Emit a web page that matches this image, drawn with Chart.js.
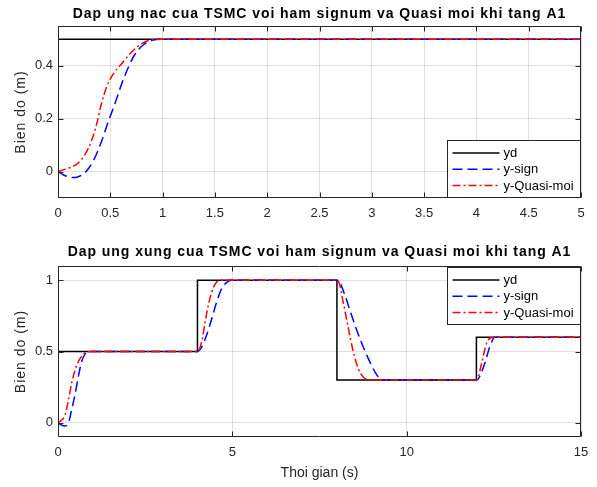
<!DOCTYPE html>
<html><head><meta charset="utf-8">
<script src="https://cdn.jsdelivr.net/npm/chart.js@4.4.1/dist/chart.umd.min.js"></script>
<style>
html,body{margin:0;padding:0;background:#fff;}
body{width:597px;height:487px;overflow:hidden;position:relative;}
canvas{position:absolute;left:0;}
#c1{top:0;}
#c2{top:240px;}
</style></head>
<body>
<canvas id="c1" width="597" height="240"></canvas>
<canvas id="c2" width="597" height="247"></canvas>
<script>
// ---------------- data ----------------
const seriesNames = ['yd', 'y-sign', 'y-Quasi-moi'];

const topTitle = 'Dap ung nac cua TSMC voi ham signum va Quasi moi khi tang A1';
const botTitle = 'Dap ung xung cua TSMC voi ham signum va Quasi moi khi tang A1';
const yLabel = 'Bien do (m)';
const xLabel = 'Thoi gian (s)';

const topXTicks = [0, 0.5, 1, 1.5, 2, 2.5, 3, 3.5, 4, 4.5, 5];
const topYTicks = [0, 0.2, 0.4];
const botXTicks = [0, 5, 10, 15];
const botYTicks = [0, 0.5, 1];

// step response (top)
const topRefT = [0, 5];
const topRefY = [0.5, 0.5];
const topSignT = [0, 0.05, 0.1, 0.16, 0.21, 0.26, 0.34, 0.42, 0.48, 0.545, 0.61, 0.675, 0.74, 0.82, 0.91, 1.0, 5];
const topSignY = [0, -0.012, -0.02, -0.023, -0.017, -0.004, 0.042, 0.118, 0.188, 0.257, 0.333, 0.396, 0.446, 0.48, 0.497, 0.5, 0.5];
const topQuasiT = [0, 0.07, 0.18, 0.26, 0.32, 0.37, 0.415, 0.465, 0.53, 0.61, 0.705, 0.8, 0.9, 1.0, 5];
const topQuasiY = [0, 0.009, 0.028, 0.066, 0.116, 0.18, 0.256, 0.32, 0.37, 0.408, 0.452, 0.483, 0.498, 0.5, 0.5];

// pulse response (bottom)
const botRefT = [0, 4, 4, 8, 8, 12, 12, 15];
const botRefY = [0.5, 0.5, 1, 1, 0.3, 0.3, 0.6, 0.6];
const botSignT = [0, 0.1, 0.2, 0.3, 0.39, 0.49, 0.58, 0.68, 0.77, 0.91, 4, 4.12, 4.26, 4.41, 4.55, 4.69, 4.84, 4.98, 8, 8.07, 8.23, 8.42, 8.66, 8.9, 9.09, 9.23, 9.38, 12, 12.06, 12.24, 12.38, 12.53, 15];
const botSignY = [0, -0.016, -0.023, 0, 0.089, 0.2, 0.32, 0.43, 0.48, 0.5, 0.5, 0.53, 0.614, 0.73, 0.847, 0.94, 0.985, 1, 1, 0.99, 0.894, 0.754, 0.59, 0.45, 0.357, 0.31, 0.3, 0.3, 0.31, 0.416, 0.53, 0.6, 0.6];
const botQuasiT = [0, 0.06, 0.2, 0.3, 0.39, 0.49, 0.63, 0.82, 0.95, 4, 4.12, 4.22, 4.31, 4.41, 4.55, 4.7, 8, 8.07, 8.18, 8.33, 8.47, 8.61, 8.76, 8.95, 12, 12.05, 12.15, 12.29, 12.48, 15];
const botQuasiY = [0, 0.01, 0.054, 0.16, 0.276, 0.37, 0.45, 0.495, 0.5, 0.5, 0.567, 0.707, 0.824, 0.917, 0.987, 1, 1, 0.976, 0.847, 0.66, 0.497, 0.38, 0.32, 0.3, 0.3, 0.32, 0.416, 0.556, 0.6, 0.6];

// ---------------- helpers ----------------
const zip = (t, y) => t.map((x, i) => ({x: x, y: y[i]}));
const AX = '#262626';
const GRID = 'rgba(38,38,38,0.15)';
const FONT = "'Liberation Sans', Arial, Helvetica, sans-serif";
const styles = [
  {color: '#000000', dash: []},
  {color: '#0000ff', dash: [10, 5]},
  {color: '#ff0000', dash: [8, 3, 2, 3]}
];

function makeDatasets(refT, refY, sT, sY, qT, qY) {
  const sets = [zip(refT, refY), zip(sT, sY), zip(qT, qY)];
  return sets.map((d, i) => ({
    label: seriesNames[i],
    data: d,
    borderColor: styles[i].color,
    borderDash: styles[i].dash,
    borderWidth: 1.5,
    pointRadius: 0,
    fill: false,
    tension: i === 0 ? 0 : 0.4,
    cubicInterpolationMode: i === 0 ? 'default' : 'monotone',
    order: 3 - i
  }));
}

const framePlugin = {
  id: 'frame',
  afterDatasetsDraw(chart, args, o) {
    const {ctx, chartArea: a, scales: {x, y}} = chart;
    ctx.save();
    ctx.setLineDash([]);
    ctx.strokeStyle = AX;
    ctx.lineWidth = 1;
    const L = Math.round(a.left) + 0.5, R = Math.round(a.right) - 0.5;
    const T = Math.round(a.top) + 0.5, B = Math.round(a.bottom) - 0.5;
    ctx.beginPath();
    ctx.rect(L, T, R - L, B - T);
    const tl = 5;
    o.xTicks.forEach(v => {
      const px = Math.round(x.getPixelForValue(v)) + 0.5;
      ctx.moveTo(px, B); ctx.lineTo(px, B - tl);
      ctx.moveTo(px, T); ctx.lineTo(px, T + tl);
    });
    o.yTicks.forEach(v => {
      const py = Math.round(y.getPixelForValue(v)) + 0.5;
      ctx.moveTo(L, py); ctx.lineTo(L + tl, py);
      ctx.moveTo(R, py); ctx.lineTo(R - tl, py);
    });
    ctx.stroke();

    // legend
    const lg = o.legend;
    const w = 133, h = 57;
    const lx = Math.round(a.right) - w - 0.5;
    const ly = lg.anchor === 'bottom' ? Math.round(a.bottom) - 1 - h + 0.5 : Math.round(a.top) + 1 + 0.5;
    ctx.fillStyle = '#fff';
    ctx.fillRect(lx, ly, w, h);
    ctx.strokeStyle = AX;
    ctx.lineWidth = 1;
    ctx.strokeRect(lx, ly, w, h);
    ctx.font = '13px ' + FONT;
    ctx.textBaseline = 'middle';
    ctx.textAlign = 'left';
    seriesNames.forEach((n, i) => {
      const cy = ly + 12.5 + i * 16.3;
      ctx.beginPath();
      ctx.strokeStyle = styles[i].color;
      ctx.setLineDash(styles[i].dash);
      ctx.lineWidth = 1.5;
      ctx.moveTo(lx + 5, cy);
      ctx.lineTo(lx + 52, cy);
      ctx.stroke();
      ctx.setLineDash([]);
      ctx.fillStyle = '#000';
      ctx.fillText(n, lx + 56, cy + 0.5);
    });

    // title
    ctx.fillStyle = '#000';
    ctx.font = 'bold 14px ' + FONT;
    ctx.letterSpacing = '0.95px';
    ctx.textAlign = 'center';
    ctx.textBaseline = 'middle';
    ctx.fillText(o.title, (a.left + a.right) / 2, o.titleY);

    // y axis label
    ctx.fillStyle = AX;
    ctx.font = '14px ' + FONT;
    ctx.letterSpacing = '1px';
    ctx.translate(21.5, (a.top + a.bottom) / 2);
    ctx.rotate(-Math.PI / 2);
    ctx.fillText(yLabel, 0, 0);
    ctx.restore();
  }
};

function makeOptions(cfg) {
  return {
    responsive: false,
    animation: false,
    events: [],
    layout: {padding: {left: 0, right: 16, top: 26, bottom: cfg.padBottom}},
    plugins: {
      legend: {display: false},
      tooltip: {enabled: false},
      title: {display: false},
      frame: {xTicks: cfg.xTicks, yTicks: cfg.yTicks, legend: {anchor: cfg.legendAnchor}, title: cfg.title, titleY: cfg.titleY}
    },
    scales: {
      x: {
        type: 'linear', min: cfg.xMin, max: cfg.xMax,
        afterBuildTicks: s => { s.ticks = cfg.xTicks.map(v => ({value: v})); },
        afterFit: s => { s.height = cfg.xHeight; },
        grid: {color: GRID, drawTicks: false, lineWidth: 1},
        border: {display: false},
        ticks: {color: AX, font: {family: FONT, size: 13}, padding: 8, maxRotation: 0,
                callback: v => String(+(+v).toFixed(2))},
        title: cfg.xTitle ? {display: true, text: xLabel, color: AX, font: {family: FONT, size: 14}, padding: {top: 0, bottom: 5}} : {display: false}
      },
      y: {
        type: 'linear', min: cfg.yMin, max: cfg.yMax,
        afterBuildTicks: s => { s.ticks = cfg.yTicks.map(v => ({value: v})); },
        afterFit: s => { s.width = 58; },
        grid: {color: GRID, drawTicks: false, lineWidth: 1},
        border: {display: false},
        ticks: {color: AX, font: {family: FONT, size: 13}, padding: 5,
                callback: v => String(+(+v).toFixed(2))},
        title: {display: false}
      }
    }
  };
}

new Chart(document.getElementById('c1'), {
  type: 'line',
  data: {datasets: makeDatasets(topRefT, topRefY, topSignT, topSignY, topQuasiT, topQuasiY)},
  options: makeOptions({xMin: 0, xMax: 5, yMin: -0.1, yMax: 0.55, xTicks: topXTicks, yTicks: topYTicks,
    xHeight: 20, padBottom: 22, xTitle: false, legendAnchor: 'bottom', title: topTitle, titleY: 14.5}),
  plugins: [framePlugin]
});

new Chart(document.getElementById('c2'), {
  type: 'line',
  data: {datasets: makeDatasets(botRefT, botRefY, botSignT, botSignY, botQuasiT, botQuasiY)},
  options: makeOptions({xMin: 0, xMax: 15, yMin: -0.1, yMax: 1.1, xTicks: botXTicks, yTicks: botYTicks,
    xHeight: 50, padBottom: 0, xTitle: true, legendAnchor: 'top', title: botTitle, titleY: 12.5}),
  plugins: [framePlugin]
});
</script>
</body></html>
